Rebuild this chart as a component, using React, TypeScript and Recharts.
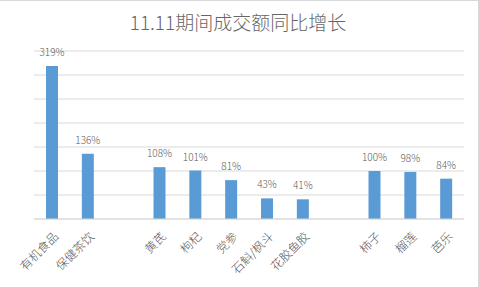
import { BarChart, Bar, XAxis, YAxis, CartesianGrid, LabelList } from "recharts"

const categories = ["有机食品", "保健茶饮", "", "黄芪", "枸杞", "党参", "石斛/枫斗", "花胶鱼胶", "", "柿子", "榴莲", "芭乐"]
const growth = [319, 136, null, 108, 101, 81, 43, 41, null, 100, 98, 84]
const yTicks = [0, 50, 100, 150, 200, 250, 300, 350]

const data = categories.map((name, i) => ({ name, value: growth[i] }))

const font = '"Noto Sans CJK SC", "Noto Sans", sans-serif'

function AngledTick({ x, y, payload }: any) {
  return (
    <text
      x={x + 5}
      y={y + 8}
      transform={`rotate(-45, ${x + 5}, ${y + 8})`}
      textAnchor="end"
      dominantBaseline="middle"
      fill="#595959"
      fontSize={12}
      fontWeight={300}
      fontFamily={font}
    >
      {payload.value}
    </text>
  )
}

export default function App() {
  return (
    <div
      style={{
        position: "absolute",
        left: 0,
        top: 0,
        width: 479,
        height: 287,
        background: "#fff",
        borderTop: "1px solid #d9d9d9",
        borderRight: "1px solid #d9d9d9",
        boxSizing: "border-box",
      }}
    >
      <div
        style={{
          position: "absolute",
          left: 0,
          width: 476,
          top: 11,
          textAlign: "center",
          fontFamily: font,
          fontSize: 19,
          fontWeight: 300,
          lineHeight: "20px",
          color: "#666",
        }}
      >
        11.11期间成交额同比增长
      </div>
      <div style={{ position: "absolute", left: 0, top: -1 }}>
        <BarChart width={479} height={287} data={data} margin={{ top: 51, right: 15, left: 34, bottom: 0 }}>
          <CartesianGrid vertical={false} stroke="#d9d9d9" />
          <XAxis
            dataKey="name"
            height={68}
            interval={0}
            tickLine={false}
            axisLine={{ stroke: "#d9d9d9" }}
            tick={<AngledTick />}
          />
          <YAxis hide domain={[0, 350]} ticks={yTicks} />
          <Bar dataKey="value" fill="#5b9bd5" barSize={12} isAnimationActive={false}>
            <LabelList
              dataKey="value"
              position="top"
              offset={10}
              formatter={(v: any) => (v == null ? "" : `${v}%`)}
              fill="#595959"
              fontSize={10}
              fontWeight={300}
              fontFamily={font}
            />
          </Bar>
        </BarChart>
      </div>
    </div>
  )
}
